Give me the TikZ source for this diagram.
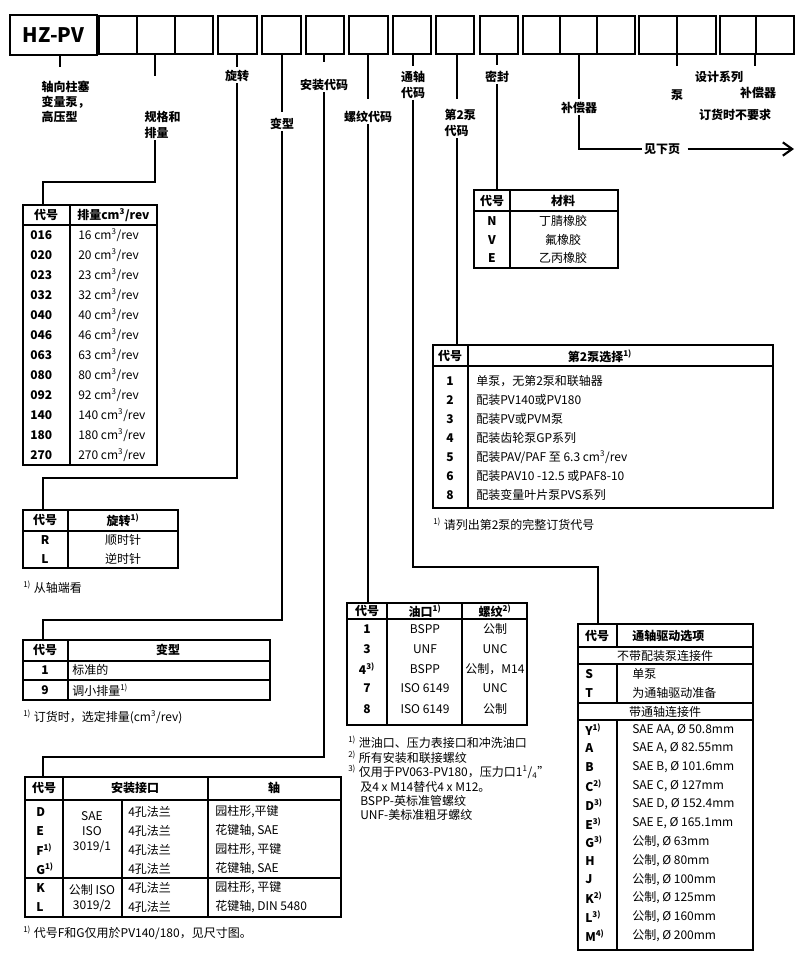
\documentclass[tikz,border=0pt]{standalone}
\usepackage{fontspec}
\setmainfont{Noto Sans CJK SC}
\usetikzlibrary{arrows.meta}

\tikzstyle{lbl}=[font=\fontsize{9}{11.5}\selectfont\bfseries, inner sep=1pt, align=left]
\tikzstyle{hd}=[font=\fontsize{9}{11}\selectfont\bfseries, inner sep=0pt]
\tikzstyle{cd}=[font=\fontsize{9}{11}\selectfont\bfseries, inner sep=0pt]
\tikzstyle{tx}=[font=\fontsize{9}{11}\selectfont, inner sep=0pt]
\tikzstyle{tab}=[line width=1pt]
\tikzstyle{ld}=[line width=0.8pt]
\newcommand{\fn}[1]{\textsuperscript{#1)}}

\begin{document}
\begin{tikzpicture}[x=0.75pt,y=-0.75pt]
    \useasboundingbox (0,0) rectangle (800,954);

    % code boxes
    \node[draw, line width=1.5pt, minimum width=65pt, minimum height=30pt, inner sep=0pt,
          font=\fontsize{15}{16}\selectfont\bfseries] (hz) at (53.5,35) {HZ-PV};
    \foreach \a/\b in {99/213,218/257,262/301,306/344,349/388,393/431,436/474,480/518,523/635,639/716,720/794}
        \draw[tab] (\a,16) rectangle (\b,54);
    \foreach \x in {137,175,560,597,677,756}
        \draw[tab] (\x,16) -- (\x,54);

    % stubs below the boxes
    \foreach \x/\l in {60/13,155/22,237/13,282/58,324/8,368/45,413/12,457/45,497/11,579/45,677/12,755/12}
        \draw[ld] (\x,54) -- ++(0,\l);

    % labels
    \node[lbl, anchor=north west] (lHz) at (40,79) {轴向柱塞\\变量泵，\\高压型};
    \node[lbl, anchor=north west] (lSize) at (143,110) {规格和\\排量};
    \node[lbl] (lRot) at (237,76) {旋转};
    \node[lbl] (lVar) at (282,124) {变型};
    \node[lbl] (lMnt) at (324,85) {安装代码};
    \node[lbl] (lThr) at (368,117) {螺纹代码};
    \node[lbl, align=center] (lThru) at (413,85) {通轴\\代码};
    \node[lbl, anchor=north west] (l2nd) at (443,108) {第2泵\\代码};
    \node[lbl] (lSeal) at (497,77) {密封};
    \node[lbl] (lComp) at (579,108) {补偿器};
    \node[lbl] (lPmp) at (677,95) {泵};
    \node[lbl] (lDes) at (719,77) {设计系列};
    \node[lbl] (lComp2) at (758,93) {补偿器};
    \node[lbl] (lNone) at (735,115) {订货时不要求};
    \node[lbl] (see) at (662,149) {见下页};

    % table anchors
    \coordinate (tSize) at (43,205);
    \coordinate (tRot) at (43,510);
    \coordinate (tVar) at (43,640);
    \coordinate (tMnt) at (43,777);
    \coordinate (tThr) at (368,603);
    \coordinate (tThru) at (598,624);
    \coordinate (t2nd) at (457,345);
    \coordinate (tSeal) at (497,190);

    % connectors
    \draw[ld] (lSize.south -| 155,0) -- (155,182) -| (tSize);
    \draw[ld] (lRot.south) -- (237,478) -| (tRot);
    \draw[ld] (lVar.south) -- (282,620) -| (tVar);
    \draw[ld] (lMnt.south) -- (324,757) -| (tMnt);
    \draw[ld] (lThr.south) -- (tThr);
    \draw[ld] (lThru.south) -- (413,567) -| (tThru);
    \draw[ld] (l2nd.south -| 457,0) -- (t2nd);
    \draw[ld] (lSeal.south) -- (tSeal);
    \draw[ld] (lComp.south) |- (see.west);
    \draw[line width=1.6pt, -{Straight Barb[length=7pt,width=10pt]}] (see.east) ++(6,0) -- (794,149);

    % displacement
    \draw[tab] (23,205) rectangle (157,465);
    \draw[tab] (70,205) -- (70,465) (23,225) -- (157,225);
    \node[hd] at (46,215) {代号};
    \node[hd, anchor=west] at (77,215) {排量cm\textsuperscript{3}/rev};
    \foreach \c/\v [count=\i] in {016/16,020/20,023/23,032/32,040/40,046/46,063/63,080/80,092/92,140/140,180/180,270/270} {
        \node[cd, anchor=west] at (30,215+20*\i) {\c};
        \node[tx, anchor=west] at (78,215+20*\i) {\v{} cm\textsuperscript{3}/rev};
    }

    % rotation
    \draw[tab] (23,510) rectangle (178,568);
    \draw[tab] (68,510) -- (68,568) (23,531) -- (178,531);
    \node[hd] at (45,520) {代号};
    \node[hd] at (123,520) {旋转\fn{1}};
    \node[cd] at (45,540) {R};
    \node[tx] at (123,540) {顺时针};
    \node[cd] at (45,559) {L};
    \node[tx] at (123,559) {逆时针};
    \node[tx, anchor=west] at (23,587) {\fn{1} 从轴端看};

    % variant
    \draw[tab] (23,640) rectangle (270,700);
    \draw[tab] (68,640) -- (68,700) (23,661) -- (270,661) (23,680) -- (270,680);
    \node[hd] at (45,650) {代号};
    \node[hd] at (168,650) {变型};
    \node[cd] at (45,670) {1};
    \node[tx, anchor=west] at (72,670) {标准的};
    \node[cd] at (45,690) {9};
    \node[tx, anchor=west] at (72,690) {调小排量\fn{1}};
    \node[tx, anchor=west] at (23,717) {\fn{1} 订货时，选定排量(cm\textsuperscript{3}/rev)};

    % mounting
    \draw[tab] (25,777) rectangle (341,917);
    \draw[tab] (63,777) -- (63,917) (208,777) -- (208,917) (122,800) -- (122,917)
        (25,800) -- (341,800) (25,878) -- (341,878);
    \node[hd] at (44,788) {代号};
    \node[hd] at (135,788) {安装接口};
    \node[hd] at (274,788) {轴};
    \foreach \c/\s [count=\i] in {D/{园柱形,平键},E/{花键轴, SAE},F\fn{1}/{园柱形, 平键},G\fn{1}/{花键轴, SAE},K/{园柱形, 平键},L/{花键轴, DIN 5480}} {
        \node[cd, anchor=west] at (36,793+19*\i) {\c};
        \node[tx, anchor=west] at (128,793+19*\i) {4孔法兰};
        \node[tx, anchor=west] at (215,793+19*\i) {\s};
    }
    \node[tx, align=center] at (92,832) {SAE\\ISO\\3019/1};
    \node[tx, align=center] at (92,898) {公制 ISO\\3019/2};
    \node[tx, anchor=west] at (23,933) {\fn{1} 代号F和G仅用於PV140/180，见尺寸图。};

    % threads
    \draw[tab] (347,603) rectangle (527,725);
    \draw[tab] (387,603) -- (387,725) (462,603) -- (462,725) (347,619) -- (527,619);
    \node[hd] at (367,611) {代号};
    \node[hd] at (425,611) {油口\fn{1}};
    \node[hd] at (495,611) {螺纹\fn{2}};
    \foreach \c/\p/\t/\y in {1/BSPP/公制/629,3/UNF/UNC/649,4\fn{3}/BSPP/{公制，M14}/669,7/ISO 6149/UNC/688,8/ISO 6149/公制/709} {
        \node[cd] at (367,\y) {\c};
        \node[tx] at (425,\y) {\p};
        \node[tx] at (495,\y) {\t};
    }
    \node[tx, anchor=north west, align=left, font=\fontsize{9}{10.8}\selectfont] at (348,736)
        {\fn{1} 泄油口、压力表接口和冲洗油口\\
         \fn{2} 所有安装和联接螺纹\\
         \fn{3} 仅用于PV063-PV180，压力口1\textsuperscript{1}/\textsubscript{4}”\\
         \hspace*{9pt}及4 x M14替代4 x M12。\\
         \hspace*{9pt}BSPP-英标准管螺纹\\
         \hspace*{9pt}UNF-美标准粗牙螺纹};

    % through drive
    \draw[tab] (578,624) rectangle (753,950);
    \draw[tab] (617,624) -- (617,647) (617,664) -- (617,703) (617,720) -- (617,950)
        (578,647) -- (753,647) (578,664) -- (753,664) (578,703) -- (753,703) (578,720) -- (753,720);
    \node[hd] at (597,636) {代号};
    \node[hd, anchor=west] at (632,636) {通轴驱动选项};
    \node[tx] at (665,656) {不带配装泵连接件};
    \node[cd, anchor=west] at (585,674) {S};
    \node[tx, anchor=west] at (632,674) {单泵};
    \node[cd, anchor=west] at (585,693) {T};
    \node[tx, anchor=west] at (632,693) {为通轴驱动准备};
    \node[tx] at (665,712) {带通轴连接件};
    \foreach \c/\v [count=\i] in {Y\fn{1}/{SAE AA, Ø 50.8mm},A/{SAE A, Ø 82.55mm},B/{SAE B, Ø 101.6mm},C\fn{2}/{SAE C, Ø 127mm},D\fn{3}/{SAE D, Ø 152.4mm},E\fn{3}/{SAE E, Ø 165.1mm},G\fn{3}/{公制, Ø 63mm},H/{公制, Ø 80mm},J/{公制, Ø 100mm},K\fn{2}/{公制, Ø 125mm},L\fn{3}/{公制, Ø 160mm},M\fn{4}/{公制, Ø 200mm}} {
        \node[cd, anchor=west] at (585,711+18.7*\i) {\c};
        \node[tx, anchor=west] at (632,711+18.7*\i) {\v};
    }

    % second pump
    \draw[tab] (433,345) rectangle (773,508);
    \draw[tab] (468,345) -- (468,508) (433,366) -- (773,366);
    \node[hd] at (450,356) {代号};
    \node[hd] at (600,356) {第2泵选择\fn{1}};
    \foreach \c/\v [count=\i] in {1/{单泵，无第2泵和联轴器},2/配装PV140或PV180,3/配装PV或PVM泵,4/配装齿轮泵GP系列,5/{配装PAV/PAF 至 6.3 cm\textsuperscript{3}/rev},6/{配装PAV10 -12.5 或PAF8-10},8/配装变量叶片泵PVS系列} {
        \node[cd] at (450,362+19*\i) {\c};
        \node[tx, anchor=west] at (476,362+19*\i) {\v};
    }
    \node[tx, anchor=west] at (433,524) {\fn{1} 请列出第2泵的完整订货代号};

    % seals
    \draw[tab] (474,190) rectangle (618,268);
    \draw[tab] (510,190) -- (510,268) (474,211) -- (618,211);
    \node[hd] at (492,201) {代号};
    \node[hd] at (563,201) {材料};
    \foreach \c/\v/\y in {N/丁腈橡胶/221,V/氟橡胶/240,E/乙丙橡胶/258} {
        \node[cd] at (492,\y) {\c};
        \node[tx] at (563,\y) {\v};
    }
\end{tikzpicture}
\end{document}
